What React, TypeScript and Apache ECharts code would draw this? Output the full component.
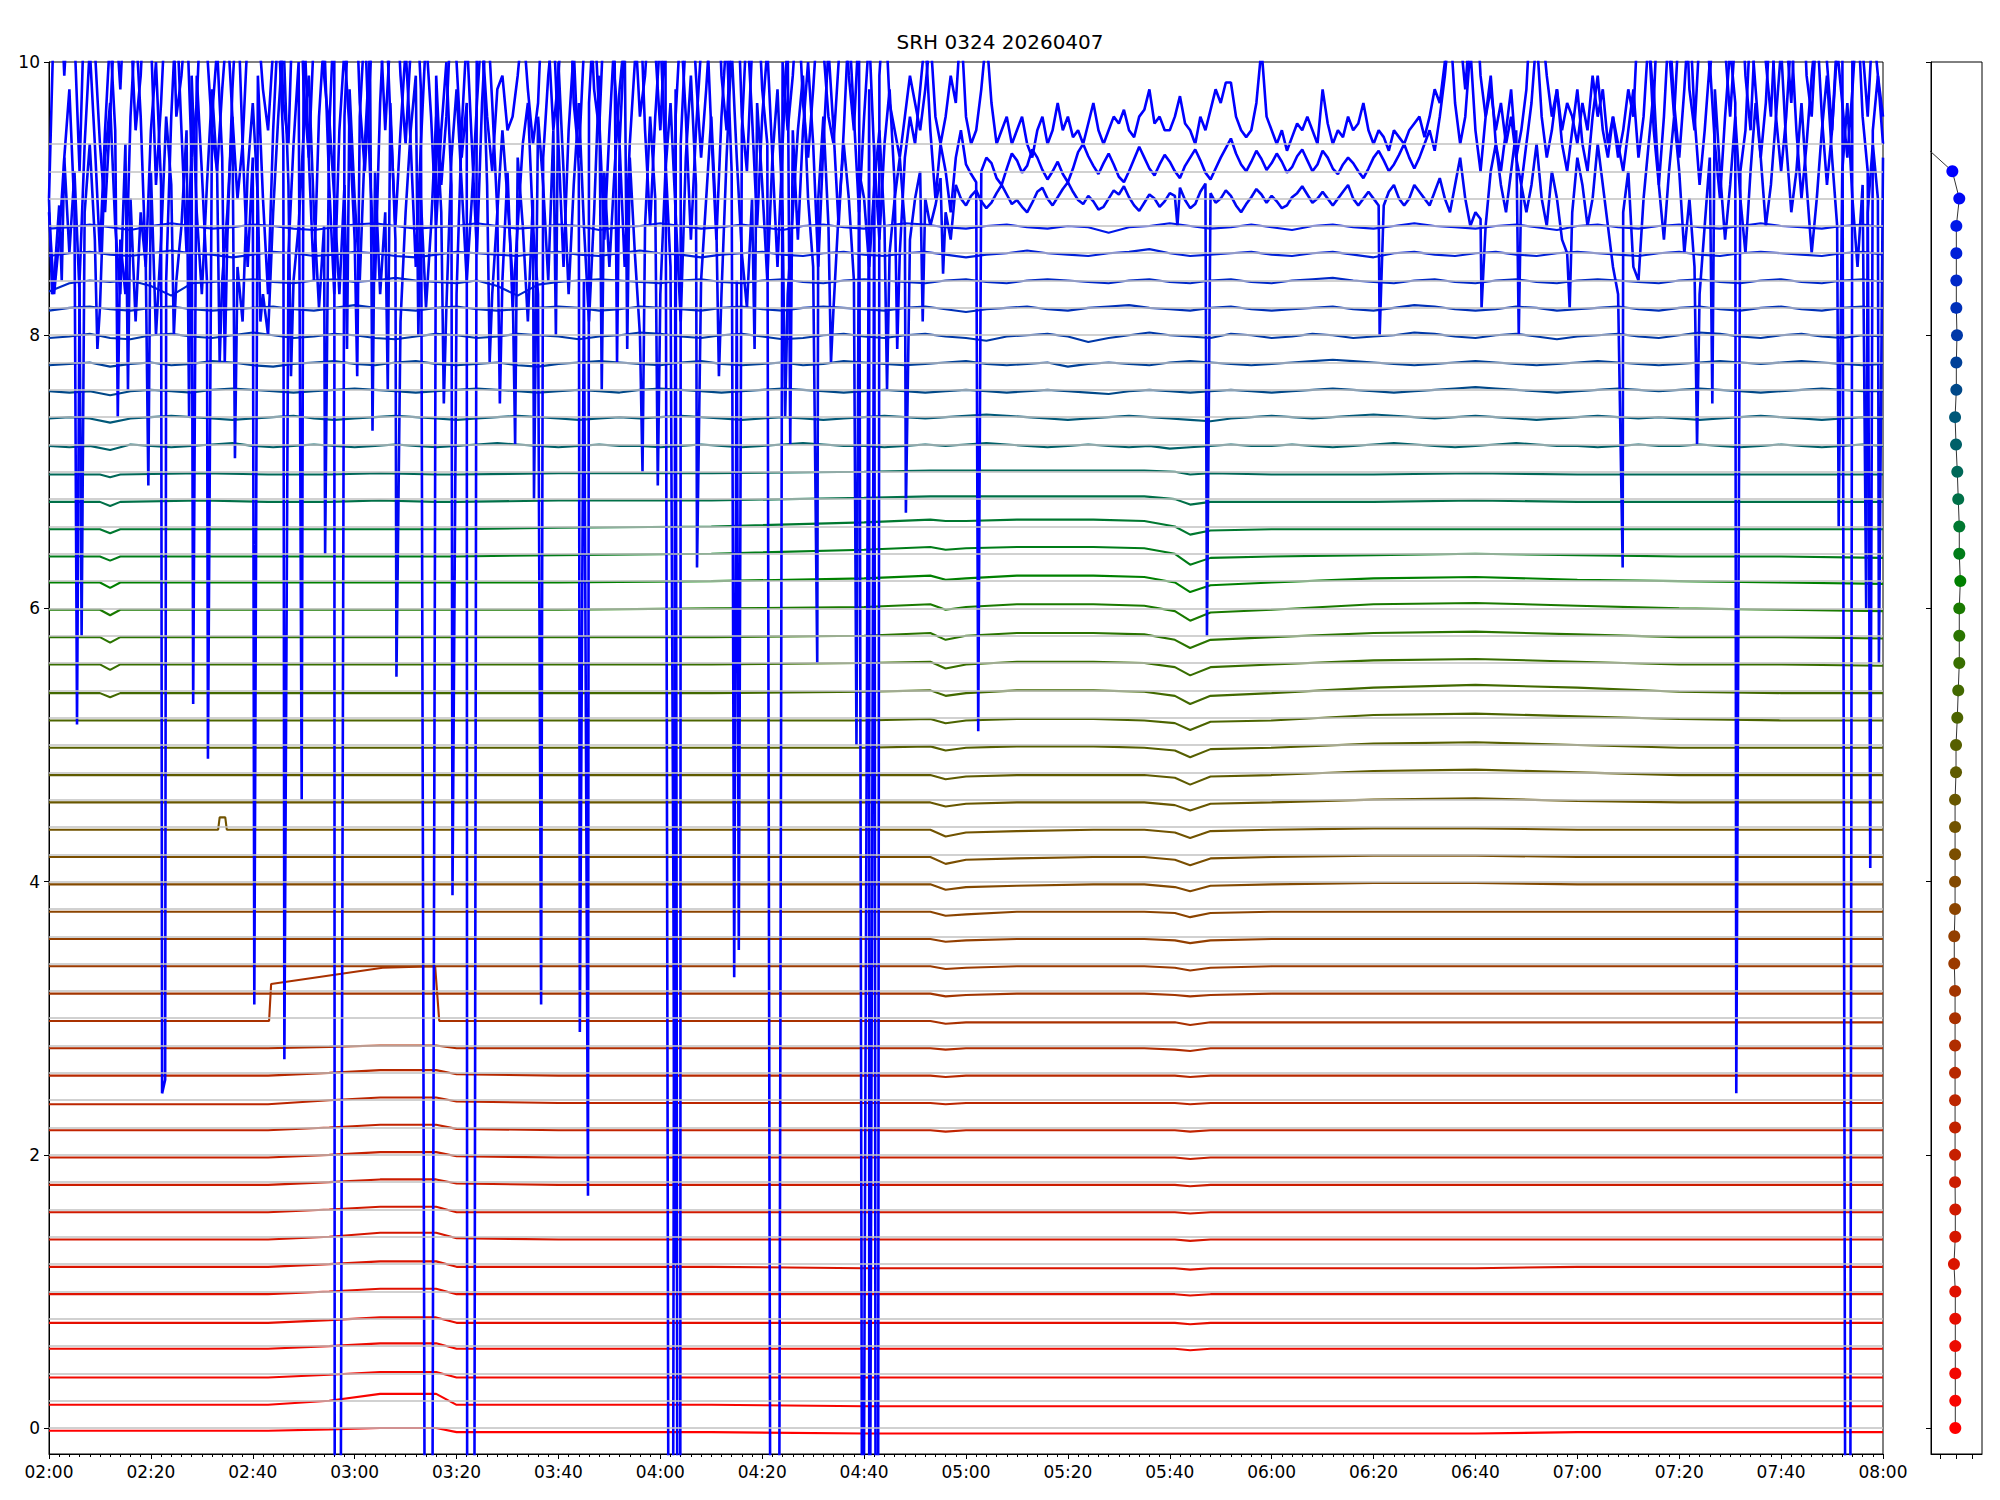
import React, { useEffect, useRef } from "react";
import * as echarts from "echarts";

const TITLE = "SRH 0324 20260407";
const FONT = "DejaVu Sans";

// x axis: minutes after 02:00
const X_MIN = 0;
const X_MAX = 360;
const X_TICK_STEP = 20;
const Y_MIN = -0.19;
const Y_MAX = 10;
const Y_TICKS = [0, 2, 4, 6, 8, 10];

// channel baselines (also the grey reference lines)
const BASELINES = [
  0, 0.2, 0.4, 0.6, 0.8, 1.0, 1.2, 1.4, 1.6, 1.8,
  2.0, 2.2, 2.4, 2.6, 2.8, 3.0, 3.2, 3.4, 3.6, 3.8,
  4.0, 4.2, 4.4, 4.6, 4.8, 5.0, 5.2, 5.4, 5.6, 5.8,
  6.0, 6.2, 6.4, 6.6, 6.8, 7.0, 7.2, 7.4, 7.6, 7.8,
  8.0, 8.2, 8.4, 8.6, 8.8, 9.0, 9.2, 9.4,
];

const COLORS = [
  "#ff0000", "#f80400", "#f20800", "#ec0b00", "#e60e00", "#e01100", "#da1400", "#d51700",
  "#d01a00", "#cb1d00", "#c62000", "#c12300", "#bc2600", "#b72900", "#b02d00", "#a93100",
  "#a23500", "#9b3a00", "#933f00", "#8b4400", "#834900", "#7a4e00", "#715300", "#685700",
  "#5f5b00", "#565f00", "#4c6400", "#426900", "#386e00", "#2a7400", "#1a7a00", "#008000",
  "#007c18", "#007830", "#007048", "#006858", "#006068", "#005878", "#004888", "#004098",
  "#0038a8", "#0030b8", "#0028c8", "#0020d8", "#0018e8", "#0008f4", "#0000ff", "#0000ff",
];

// right panel: horizontal position of each channel dot
const DOT_X = [
  -0.075, -0.075, -0.075, -0.075, -0.075, -0.075, -0.16, -0.075, -0.075, -0.09,
  -0.09, -0.09, -0.09, -0.09, -0.09, -0.09, -0.09, -0.14, -0.14, -0.09,
  -0.09, -0.09, -0.09, -0.09, -0.03, -0.03, 0.05, 0.11, 0.175, 0.175,
  0.175, 0.24, 0.175, 0.175, 0.11, 0.05, -0.03, -0.09, -0.01, -0.01,
  0.03, -0.01, -0.01, -0.01, -0.01, 0.175, -0.26, -2.15,
];
const PANEL_X_TICKS = [-1, 0, 1];

// ---- smooth channels 0..35: deviations (hundredths) from baseline at these minutes
const SMOOTH_T = [0, 10, 12, 14, 30, 43, 55, 65, 76, 80, 100, 130, 160, 173, 176, 180, 190, 205, 215, 221, 224, 228, 240, 260, 280, 300, 320, 340, 360];
const SMOOTH_DEV = [
  [-2, -2, -2, -2, -2, -2, -1, 0, 0, -3, -3, -3, -4, -4, -4, -4, -4, -4, -4, -4, -4, -4, -4, -4, -4, -3, -3, -3, -3],
  [-3, -3, -3, -3, -3, -3, 0, 5, 5, -3, -3, -3, -4, -4, -4, -4, -4, -4, -4, -4, -4, -4, -4, -4, -4, -4, -4, -4, -4],
  [-3, -3, -3, -3, -3, -3, -1, 1, 1, -3, -3, -3, -3, -3, -3, -3, -3, -3, -3, -3, -3, -3, -3, -3, -3, -3, -3, -3, -3],
  [-2, -2, -2, -2, -2, -2, 0, 2, 2, -2, -2, -2, -2, -2, -2, -2, -2, -2, -2, -2, -3, -2, -2, -2, -2, -2, -2, -2, -2],
  [-3, -3, -3, -3, -3, -3, -1, 1, 1, -3, -3, -3, -3, -3, -3, -3, -3, -3, -3, -3, -4, -3, -3, -3, -3, -3, -3, -3, -3],
  [-2, -2, -2, -2, -2, -2, 0, 2, 2, -2, -2, -2, -2, -2, -2, -2, -2, -2, -2, -2, -3, -2, -2, -2, -2, -2, -2, -2, -2],
  [-2, -2, -2, -2, -2, -2, 0, 2, 2, -2, -2, -2, -3, -3, -3, -3, -3, -3, -3, -3, -4, -3, -3, -3, -3, -2, -2, -2, -2],
  [-2, -2, -2, -2, -2, -2, 0, 3, 3, -1, -2, -2, -2, -2, -2, -2, -2, -2, -2, -2, -3, -2, -2, -2, -2, -2, -2, -2, -2],
  [-2, -2, -2, -2, -2, -2, 0, 2, 2, -2, -2, -2, -2, -2, -2, -2, -2, -2, -2, -2, -3, -2, -2, -2, -2, -2, -2, -2, -2],
  [-2, -2, -2, -2, -2, -2, 0, 2, 2, -1, -2, -2, -2, -2, -2, -2, -2, -2, -2, -2, -3, -2, -2, -2, -2, -2, -2, -2, -2],
  [-2, -2, -2, -2, -2, -2, 0, 2, 2, -1, -2, -2, -2, -2, -2, -2, -2, -2, -2, -2, -3, -2, -2, -2, -2, -2, -2, -2, -2],
  [-2, -2, -2, -2, -2, -2, 0, 2, 2, -1, -2, -2, -2, -2, -3, -2, -2, -2, -2, -2, -3, -2, -2, -2, -2, -2, -2, -2, -2],
  [-3, -3, -3, -3, -3, -3, 0, 2, 2, -1, -2, -2, -2, -2, -3, -2, -2, -2, -2, -2, -3, -2, -2, -2, -2, -2, -2, -2, -2],
  [-2, -2, -2, -2, -2, -2, 0, 2, 2, -1, -2, -2, -2, -2, -3, -2, -2, -2, -2, -2, -3, -2, -2, -2, -2, -2, -2, -2, -2],
  [-2, -2, -2, -2, -2, -2, -1, 0, 0, -2, -2, -2, -2, -2, -3, -2, -2, -2, -2, -3, -4, -2, -2, -2, -2, -2, -2, -2, -2],
  null,
  [-2, -2, -2, -2, -2, -2, -2, -2, -2, -2, -2, -2, -2, -2, -4, -3, -2, -2, -2, -3, -4, -3, -2, -2, -2, -2, -2, -2, -2],
  [-2, -2, -2, -2, -2, -2, -2, -2, -2, -2, -2, -2, -2, -2, -4, -3, -2, -2, -2, -3, -5, -3, -2, -2, -2, -2, -2, -2, -2],
  [-2, -2, -2, -2, -2, -2, -2, -2, -2, -2, -2, -2, -2, -2, -4, -3, -2, -2, -2, -3, -5, -3, -2, -2, -2, -2, -2, -2, -2],
  [-2, -2, -2, -2, -2, -2, -2, -2, -2, -2, -2, -2, -2, -2, -5, -4, -2, -2, -2, -3, -6, -3, -2, -2, -2, -2, -2, -2, -2],
  [-2, -2, -2, -2, -2, -2, -2, -2, -2, -2, -2, -2, -2, -2, -6, -4, -3, -2, -2, -4, -7, -3, -2, -1, -1, -2, -2, -2, -2],
  [-2, -2, -2, -2, -2, -2, -2, -2, -2, -2, -2, -2, -2, -2, -7, -4, -3, -2, -2, -4, -8, -3, -2, -1, -1, -2, -2, -2, -2],
  [-2, -2, -2, -2, -2, -2, -2, -2, -2, -2, -2, -2, -2, -2, -7, -4, -3, -2, -2, -4, -8, -3, -2, -1, -1, -2, -2, -2, -2],
  [-2, -2, -2, -2, -2, -2, -2, -2, -2, -2, -2, -2, -2, -2, -5, -3, -2, -2, -2, -4, -8, -3, -2, 0, 1, -1, -2, -2, -2],
  [-2, -2, -2, -2, -2, -2, -2, -2, -2, -2, -2, -2, -2, -2, -5, -3, -2, -2, -2, -4, -9, -3, -2, 1, 2, 0, -2, -2, -2],
  [-2, -2, -2, -2, -2, -2, -2, -2, -2, -2, -2, -2, -2, -1, -4, -2, -1, -1, -2, -4, -9, -3, -2, 1, 2, 0, -2, -2, -2],
  [-2, -2, -2, -2, -2, -2, -2, -2, -2, -2, -2, -2, -2, -1, -4, -2, -1, -1, -2, -4, -9, -3, -2, 2, 3, 1, -1, -2, -2],
  [-2, -2, -5, -2, -2, -2, -2, -2, -2, -2, -2, -2, -1, 0, -4, -2, 0, 0, -1, -4, -10, -4, -2, 2, 4, 2, -1, -2, -2],
  [-1, -1, -5, -1, -1, -1, -1, -1, -1, -1, -1, -1, 0, 1, -4, -1, 1, 1, 0, -3, -9, -3, -1, 2, 3, 1, -1, -1, -2],
  [-1, -1, -5, -1, -1, -1, -1, -1, -1, -1, -1, -1, 0, 2, -3, 0, 2, 2, 1, -3, -9, -3, -1, 2, 3, 1, -1, -1, -2],
  [-1, -1, -5, -1, -1, -1, -1, -1, -1, -1, -1, 0, 1, 3, -1, 1, 3, 3, 2, -2, -9, -3, -1, 3, 4, 2, 0, -1, -2],
  [-1, -1, -5, -1, -1, -1, -1, -1, -1, -1, -1, 0, 2, 4, 1, 2, 4, 4, 3, -1, -8, -3, -1, 2, 3, 1, 0, -1, -2],
  [-2, -2, -5, -2, -2, -2, -2, -2, -2, -2, -1, 0, 3, 5, 3, 4, 5, 5, 4, 0, -8, -3, -2, -1, 0, -1, -2, -2, -3],
  [-2, -2, -5, -2, -2, -2, -2, -2, -2, -2, -1, 0, 3, 5, 4, 4, 5, 5, 4, 0, -6, -3, -2, -2, -2, -2, -2, -2, -2],
  [-2, -2, -5, -2, -1, -2, -2, -1, -2, -2, -1, -1, 1, 2, 2, 2, 2, 2, 2, 0, -4, -2, -2, -2, -1, -2, -2, -2, -2],
  [-2, -2, -4, -2, -1, -2, -2, -1, -2, -2, -1, -1, 0, 1, 1, 1, 1, 1, 1, 0, -2, -1, -2, -2, -1, -2, -2, -2, -2],
];

// channel 15 (3.0) jumps up and ramps, then falls back
const CH15_POINTS = [
  [0, 2.98], [43.2, 2.98], [43.6, 3.25], [65.5, 3.37], [75.8, 3.38], [76.6, 2.98],
  [173, 2.98], [176, 2.96], [180, 2.97], [221, 2.97], [224, 2.95], [228, 2.97], [360, 2.97],
];
// channel 22 (4.4) little step near 02:34
const CH22_BUMP = [[33.2, 4.38], [33.5, 4.47], [34.6, 4.47], [34.9, 4.38]];

// ---- wiggly channels 36..44: deviations (hundredths) every 4 minutes
const WIGGLY_STEP = 4;
const WIGGLY_DEV = [
  [-1, -2, -1, -4, 0, -1, -2, -1, 0, 1, -1, -2, -1, 0, -1, -2, -1, 0, -1, -2, -1, 0, 1, 0, -1, -2, -1, 0, -1, -1, -2, -1, 0, -1, -2, -1, 0, 1, 0, -1, -1, -2, -1, 0, -1, 0, 1, 0, -1, -2, -1, 0, -1, -2, -1, -3, -2, -1, 0, -1, -1, 0, -1, -2, -1, 0, 1, 0, -1, -2, -1, 0, 1, 0, -1, -1, -2, -1, 0, -1, -1, 0, -1, -2, -1, 0, -1, -2, -1, 0, -1],
  [-1, 0, -1, -4, -1, 0, 1, 0, -1, -2, -1, 0, 1, -1, -2, -1, 0, 1, 0, -1, -2, -1, 0, 1, 0, -1, -2, -1, 0, -1, 0, 1, 0, -1, -2, -1, 0, -1, -2, -1, 0, 1, 0, -1, 0, 1, 2, 1, 0, -1, -2, -1, 0, 1, 0, -1, -2, -3, -1, 0, 1, 0, -1, 0, 1, 2, 1, 0, -1, 0, 1, 0, -1, -2, -1, 0, 1, 0, -1, 0, -1, -2, -1, 0, 1, 0, -1, -2, -1, 0, -1],
  [-1, -2, -1, -4, -1, 0, -1, -2, 0, 1, 0, -1, -2, -1, 0, 1, 0, -1, -2, -1, 0, 1, 0, -1, -2, -1, 0, -1, -2, 0, 1, 0, -1, -2, -1, 0, 1, 0, -1, -2, -1, 0, -1, -2, -1, 0, -1, -2, -1, 0, -1, -2, -3, -1, 0, -1, -2, -1, 0, -1, -2, -1, 0, 1, 0, -1, -2, -1, 0, 1, 2, 1, 0, -1, -2, -1, 0, 1, 0, -1, 0, 1, 0, -1, -2, -1, 0, 1, 0, -1, -1],
  [-2, -1, 0, -3, -1, 0, -2, -1, 1, 0, -2, -3, -1, 0, 1, -1, -2, 0, 1, -1, -2, -1, 0, -2, -3, -1, 0, 1, 0, -1, -2, 0, 1, -1, -2, -1, 0, -2, -1, 1, 0, -1, -2, -1, 0, 1, -1, -2, -1, 0, -3, -1, 0, -1, -2, 0, 1, 0, -1, -2, -1, 0, 1, 2, 1, 0, -1, -2, -1, 0, 1, 0, -1, -2, -1, 0, 1, 0, -1, -2, -1, 0, 1, 0, -1, 0, 1, 0, -1, -2, -1],
  [-2, -1, 1, -2, -3, 0, 1, -1, -2, 0, 2, 0, -2, -1, 1, 0, -2, -3, -1, 1, 0, -2, -1, 1, 0, -1, -3, -1, 0, 2, 1, -1, -2, 0, 1, -1, -3, -2, 0, 1, -1, -2, 0, 1, -1, -2, -4, -1, 0, 1, -1, -5, -2, 0, 2, 0, -1, -2, 1, 0, -2, -1, 1, 0, -2, -1, 0, 2, 1, -1, -2, 0, 1, -1, -3, -1, 0, 1, -1, -2, 0, 2, 1, -1, -2, 0, 1, -1, -2, 0, -1],
  [-2, 0, 1, -1, -2, 0, 1, -1, -2, -1, 0, 1, -1, -2, 0, 2, 0, -1, -2, 0, 1, -1, -2, -1, 0, 1, 0, -2, -1, 1, 0, -1, -2, 0, 1, -1, -2, 0, 1, 0, -1, -2, 0, 1, -1, -3, -1, 0, 1, -1, -2, 0, 1, 2, 0, -1, -2, 0, 1, -1, -2, -1, 0, 1, -1, -2, 0, 2, 1, -1, -2, -1, 1, 0, -2, -1, 0, 1, -1, -2, 0, 1, -1, -2, 0, 1, -1, -2, 0, 1, -1],
  [-8, -2, 0, -1, 0, -4, -11, -2, -1, 0, 1, -1, -2, 0, 1, -1, 0, 2, 0, -1, -2, 0, -4, -11, -3, -1, 0, 1, 0, -1, -2, 0, 1, -1, -2, 0, 1, -1, -2, 0, 1, 0, -1, -2, 0, 1, -1, -2, 0, 1, 0, -1, -2, 0, 1, -1, -2, 0, 1, -1, -2, 0, 1, 2, 0, -1, -2, 0, 1, -1, -2, 0, 1, -1, -2, 0, 1, 0, -1, -2, 0, 1, -1, -2, 0, 1, -1, -2, 0, 1, -1],
  [-2, 0, 1, -1, -2, 0, 2, 0, -1, -3, -1, 1, 0, -2, -1, 1, 0, -2, -3, -1, 1, 0, -1, -2, 0, 1, -1, -2, 0, 2, 0, -1, -3, -1, 0, 1, -1, -2, 0, 1, -1, -2, 0, 1, -1, -3, -1, 0, 2, 0, -1, -2, 0, 1, 3, 0, -2, -1, 0, 1, -1, -2, 0, 1, -1, -3, 0, 1, -1, -2, 0, 1, -1, -2, 0, 1, 0, -1, -2, 0, 1, -1, -2, 0, 1, 0, -1, -2, 0, 1, -1],
  [-2, -1, 1, -1, -3, 0, 2, 0, -2, -1, 1, 0, -2, -3, -1, 1, 2, 0, -2, -1, 0, 2, 0, -2, -1, 1, 0, -3, -1, 0, 2, 0, -2, -1, 1, -1, -3, 0, 1, -1, -2, 0, 2, 1, -1, -2, 0, 1, -1, -2, 0, -1, -5, -1, 0, 2, 0, -2, -1, 1, -1, -3, 0, 1, -1, -2, 0, 2, 0, -1, -2, 0, 1, -1, -3, 0, 1, -1, -2, 0, 1, -1, -2, 0, 2, 0, -1, -2, 0, 1, -1],
];

// ---- noisy channels 45..47: one reading per minute (02:00 .. 08:00)
const NOISY_45 = [
  9.0, 8.4, 8.95, 9.3, 8.6, 9.2, 8.3, 8.9, 9.4, 8.7,
  8.2, 9.3, 9.7, 8.8, 8.3, 9.4, 9.0, 8.1, 8.9, 8.5,
  9.2, 8.0, 8.7, 9.6, 9.1, 8.4, 8.8, 9.5, 9.9, 8.9,
  8.3, 9.1, 9.8, 9.2, 8.4, 8.9, 9.6, 8.5, 8.1, 9.2,
  9.7, 9.0, 8.3, 8.0, 8.9, 9.6, 10.2, 9.1, 8.4, 8.8,
  9.5, 9.9, 8.9, 8.2, 8.8, 9.6, 9.0, 8.3, 9.1, 9.8,
  9.0, 8.4, 9.4, 10.1, 9.2, 8.3, 8.9, 9.7, 8.7, 8.1,
  8.9, 9.5, 9.9, 9.0, 8.2, 8.8, 9.6, 8.9, 8.2, 9.3,
  9.8, 9.1, 8.4, 9.0, 9.7, 10.3, 9.1, 8.3, 8.9, 9.5,
  9.0, 8.4, 9.3, 8.8, 8.1, 9.0, 9.6, 9.1, 8.4, 9.5,
  10.0, 9.2, 8.3, 9.1, 9.7, 8.8, 8.1, 8.9, 9.9, 9.2,
  8.5, 9.2, 9.8, 10.2, 9.3, 8.6, 8.0, 8.8, 9.6, 9.0,
  8.3, 9.2, 9.7, 8.9, 8.1, 9.3, 9.9, 9.1, 8.4, 9.0,
  9.6, 8.8, 8.3, 9.3, 10.1, 9.3, 8.6, 8.2, 9.0, 9.7,
  9.1, 8.4, 9.3, 9.8, 8.9, 8.3, 8.9, 9.5, 9.9, 9.0,
  8.5, 9.0, 9.6, 8.8, 8.2, 8.9, 9.4, 9.0, 8.4, 9.2,
  9.0, 8.5, 9.1, 9.5, 8.8, 8.6, 9.0, 9.3, 8.8, 8.7,
  9.0, 9.2, 9.0, 8.8, 8.95, 9.15, 8.9, 8.7, 9.1, 9.0,
  8.95, 9.02, 9.06, 8.98, 8.93, 8.97, 9.04, 9.1, 9.03, 8.96,
  8.99, 8.94, 8.9, 8.97, 9.05, 9.08, 9.0, 8.95, 9.01, 9.07,
  9.12, 9.05, 8.99, 8.96, 9.02, 8.98, 8.92, 8.94, 9.0, 9.06,
  9.03, 9.09, 9.01, 8.95, 8.91, 8.97, 9.03, 9.0, 8.94, 8.98,
  9.04, 9.02, 9.08, 8.99, 8.93, 8.96, 9.05, 9.11, 9.04, 8.97,
  9.0, 9.06, 9.02, 8.95, 8.9, 8.96, 9.01, 9.07, 9.03, 8.97,
  9.02, 8.98, 8.93, 8.95, 9.01, 9.04, 9.09, 9.03, 8.97, 9.0,
  9.05, 9.0, 8.95, 9.0, 9.05, 9.1, 9.0, 8.95, 9.0, 9.05,
  9.0, 8.95, 8.95, 9.05, 9.1, 9.0, 8.95, 9.0, 9.1, 9.05,
  9.0, 8.95, 9.05, 9.15, 9.0, 8.9, 9.1, 9.3, 9.0, 8.8,
  8.9, 8.85, 8.8, 9.2, 9.4, 9.1, 8.9, 9.2, 9.5, 9.1,
  8.9, 9.1, 9.4, 9.0, 8.8, 9.2, 9.0, 8.7, 8.6, 8.9,
  9.3, 9.1, 8.8, 9.0, 9.4, 9.1, 8.8, 8.5, 8.3, 8.9,
  9.2, 8.5, 8.4, 9.0, 9.4, 9.8, 9.1, 8.7, 9.2, 9.6,
  9.2, 8.6, 9.0, 8.5, 8.3, 8.8, 9.3, 9.8, 9.2, 8.7,
  9.1, 9.6, 9.0, 8.6, 9.2, 9.7, 9.3, 8.8, 9.1, 9.6,
  10.1, 9.4, 8.9, 9.2, 9.7, 9.1, 8.6, 9.0, 9.5, 9.9,
  9.3, 8.8, 9.2, 9.7, 9.0, 8.5, 9.1, 8.9, 9.4, 9.0,
  9.3,
];
const NOISY_46 = [
  8.9, 8.3, 8.7, 9.3, 9.8, 8.9, 8.4, 9.4, 10.1, 9.4,
  8.6, 9.5, 10.2, 9.5, 8.7, 8.3, 9.6, 10.3, 9.6, 8.5,
  9.5, 10.0, 9.1, 8.4, 9.6, 10.4, 9.5, 8.6, 9.3, 9.9,
  9.2, 8.4, 9.6, 10.1, 9.3, 8.7, 9.8, 10.5, 9.4, 8.5,
  9.3, 9.9, 9.0, 8.3, 9.5, 10.3, 9.4, 8.6, 9.4, 10.0,
  10.4, 9.3, 8.4, 9.6, 10.2, 9.1, 8.3, 9.5, 10.1, 9.5,
  8.7, 9.6, 10.3, 9.2, 8.4, 9.7, 10.5, 9.6, 8.8, 9.5,
  10.1, 9.4, 8.5, 9.4, 10.2, 9.6, 8.8, 9.5, 10.0, 9.1,
  8.3, 9.5, 10.2, 9.4, 8.6, 9.7, 10.4, 9.7, 8.9, 8.4,
  9.2, 8.2, 8.8, 9.4, 9.7, 8.8, 8.3, 9.3, 9.9, 10.3,
  9.4, 8.5, 9.5, 10.1, 9.2, 8.4, 9.7, 10.4, 9.6, 8.7,
  9.5, 10.2, 9.4, 8.5, 9.4, 10.0, 10.5, 9.5, 8.8, 9.6,
  10.2, 9.3, 8.5, 9.6, 10.3, 9.6, 8.7, 9.5, 10.1, 10.4,
  9.5, 8.7, 9.6, 10.2, 9.2, 8.4, 9.5, 10.3, 9.6, 8.8,
  9.6, 10.1, 9.3, 8.5, 9.4, 10.2, 9.5, 8.7, 9.5, 10.0,
  9.4, 8.5, 9.4, 10.1, 9.5, 8.8, 9.5, 10.3, 9.6, 8.9,
  9.6, 10.2, 9.3, 8.7, 9.4, 9.8, 9.1, 8.6, 9.3, 9.6,
  9.4, 9.8, 10.2, 9.5, 9.0, 9.4, 9.2, 8.9, 9.3, 9.5,
  9.25, 9.18, 9.12, 9.2, 9.3, 9.26, 9.15, 9.1, 9.22, 9.33,
  9.28, 9.19, 9.24, 9.36, 9.3, 9.21, 9.14, 9.2, 9.27, 9.18,
  9.12, 9.22, 9.34, 9.4, 9.31, 9.24, 9.18, 9.26, 9.33, 9.25,
  9.16, 9.12, 9.2, 9.29, 9.38, 9.3, 9.22, 9.17, 9.25, 9.32,
  9.27, 9.2, 9.15, 9.24, 9.3, 9.36, 9.28, 9.19, 9.14, 9.22,
  9.3, 9.37, 9.44, 9.33, 9.25, 9.2, 9.27, 9.35, 9.29, 9.21,
  9.26, 9.33, 9.27, 9.19, 9.23, 9.31, 9.36, 9.28, 9.2, 9.25,
  9.35, 9.3, 9.22, 9.18, 9.25, 9.3, 9.26, 9.2, 9.15, 9.22,
  9.3, 9.35, 9.28, 9.2, 9.25, 9.32, 9.4, 9.3, 9.22, 9.3,
  9.4, 9.5, 9.35, 9.6, 9.9, 10.3, 9.7, 9.4, 9.6, 10.1,
  9.5, 9.2, 9.6, 9.9, 9.4, 9.2, 9.5, 9.8, 9.3, 9.1,
  9.4, 9.7, 10.2, 9.6, 9.3, 9.5, 9.8, 9.4, 9.2, 9.5,
  9.8, 9.4, 9.2, 9.6, 9.9, 9.5, 9.3, 9.6, 9.4, 9.2,
  9.5, 9.8, 9.3, 9.6, 10.2, 9.5, 9.1, 9.6, 10.3, 9.7,
  9.3, 9.8, 10.4, 9.6, 9.1, 9.5, 10.0, 9.4, 9.0, 9.6,
  10.1, 9.7, 9.2, 9.5, 10.3, 9.8, 9.3, 9.7, 10.4, 9.6,
  9.2, 9.6, 10.2, 9.5, 9.0, 9.4, 9.9, 10.3, 9.6, 9.1,
  9.5, 10.1, 9.7, 9.3, 9.8, 10.4, 9.6, 9.2, 9.5, 9.9,
  9.4,
];
const NOISY_47 = [
  9.0, 10.4, 10.8, 9.9, 10.6, 10.2, 9.2, 10.5, 10.9, 10.1,
  9.4, 8.9, 9.6, 10.4, 9.8, 10.6, 10.3, 9.5, 9.9, 10.7,
  10.2, 9.1, 9.7, 10.5, 10.8, 9.6, 9.9, 10.4, 9.3, 9.7,
  10.6, 10.1, 9.5, 9.2, 9.8, 10.3, 9.6, 9.0, 9.4, 10.2,
  10.8, 10.3, 9.8, 9.5, 10.1, 10.7, 9.7, 9.4, 10.6, 10.9,
  9.8, 9.3, 10.2, 10.6, 9.9, 9.5, 10.4, 9.9, 9.6, 10.5,
  10.8, 9.7, 9.2, 9.9, 10.6, 10.3, 9.5, 10.2, 10.7, 9.9,
  9.4, 10.1, 10.6, 9.8, 9.5, 10.3, 9.9, 9.1, 9.6, 10.4,
  10.0, 9.3, 9.7, 10.5, 10.9, 10.2, 9.6, 9.2, 9.8, 9.9,
  9.5, 9.6, 9.9, 10.3, 9.8, 9.4, 9.7, 10.6, 10.2, 9.5,
  9.9, 10.5, 10.8, 9.7, 9.3, 10.1, 10.6, 9.8, 9.5, 10.4,
  10.7, 9.9, 9.4, 10.2, 10.8, 10.3, 9.6, 9.9, 10.5, 10.1,
  9.5, 10.3, 10.7, 9.8, 9.4, 10.2, 10.6, 9.9, 9.3, 9.8,
  10.4, 10.9, 9.9, 9.5, 10.3, 10.7, 9.6, 9.2, 10.1, 10.6,
  9.8, 9.4, 10.2, 10.8, 10.0, 9.5, 9.9, 10.5, 9.7, 9.3,
  9.8, 10.4, 10.1, 9.6, 9.4, 10.0, 10.6, 9.9, 9.5, 10.3,
  10.7, 9.8, 9.4, 9.9, 10.5, 9.7, 9.5, 9.3, 9.6, 9.9,
  9.7, 9.5, 9.8, 10.2, 9.6, 9.4, 9.6, 9.9, 9.7, 10.3,
  9.6, 9.4, 9.5, 9.8, 10.2, 9.7, 9.4, 9.5, 9.6, 9.4,
  9.5, 9.6, 9.4, 9.3, 9.5, 9.6, 9.4, 9.5, 9.7, 9.5,
  9.6, 9.45, 9.5, 9.4, 9.55, 9.7, 9.5, 9.4, 9.5, 9.6,
  9.55, 9.65, 9.5, 9.45, 9.6, 9.65, 9.8, 9.55, 9.6, 9.5,
  9.5, 9.6, 9.75, 9.55, 9.5, 9.4, 9.6, 9.5, 9.65, 9.8,
  9.7, 9.85, 9.85, 9.6, 9.5, 9.45, 9.5, 9.7, 10.1, 9.6,
  9.5, 9.4, 9.5, 9.35, 9.45, 9.55, 9.5, 9.6, 9.5, 9.4,
  9.8, 9.55, 9.4, 9.5, 9.45, 9.6, 9.5, 9.55, 9.7, 9.5,
  9.4, 9.5, 9.45, 9.35, 9.5, 9.45, 9.4, 9.5, 9.55, 9.6,
  9.45, 9.6, 9.8, 9.7, 10.0, 10.4, 10.6, 10.2, 9.8, 10.3,
  10.6, 9.9, 9.6, 9.8, 9.5, 9.7, 9.4, 9.6, 9.3, 9.5,
  9.8, 10.5, 10.8, 10.3, 9.9, 9.6, 9.8, 9.5, 9.7, 9.6,
  9.4, 9.7, 9.5, 9.9, 9.6, 9.8, 9.4, 9.6, 9.3, 9.5,
  9.8, 9.6, 10.4, 10.8, 10.2, 9.7, 10.6, 10.9, 10.1, 9.6,
  10.3, 10.7, 9.8, 9.5, 10.2, 10.6, 9.9, 10.4, 10.8, 10.1,
  9.6, 10.2, 10.7, 9.9, 9.5, 10.3, 10.8, 10.0, 9.6, 10.4,
  10.9, 10.2, 9.7, 10.5, 10.8, 9.9, 9.6, 10.3, 10.7, 10.0,
  9.5, 10.2, 10.6, 9.8, 10.4, 10.9, 10.1, 9.6, 10.3, 9.9,
  9.6,
];

// downward spikes [minute, value]
const SPIKES_45 = [
  [0.6, 8.3], [2.5, 8.4], [6.4, 5.8], [9.5, 7.9], [15.5, 7.6], [19.5, 6.9], [24.5, 8.0], [27.5, 7.4],
  [33.5, 7.8], [36.5, 7.1], [41.5, 8.1], [47.5, 7.7], [54.2, 6.4], [58.5, 7.9], [63.5, 7.3], [66.5, 7.6],
  [68.2, 5.5], [72.5, 8.0], [77.5, 7.5], [86.5, 7.8], [91.5, 7.2], [95.2, 6.8], [99.5, 8.0], [108.5, 7.6],
  [113.5, 7.9], [116.5, 7.0], [119.5, 6.9], [127.2, 6.3], [131.5, 7.7], [138.5, 7.9], [144.5, 7.4], [150.8, 5.6],
  [153.5, 7.8], [158.5, 5.0], [164.5, 7.6], [168.2, 6.7], [171.5, 8.1], [175.5, 8.45], [221.5, 8.8], [227.3, 5.8],
  [261.2, 8.0], [281.2, 8.2], [288.5, 8.0], [298.5, 8.2], [308.9, 6.3], [323.5, 7.2], [326.5, 7.5], [351.3, 6.6],
  [356.7, 6.0], [359.2, 5.6],
];
const SPIKES_46 = [
  [5.5, 5.15], [13.5, 7.4], [22.2, 2.45], [22.8, 2.55], [28.3, 5.3], [31.2, 4.9], [34.5, 7.8], [40.3, 3.1],
  [46.2, 2.7], [49.6, 4.6], [60.5, 7.7], [79.2, 3.9], [88.5, 7.5], [96.6, 3.1], [104.2, 2.9], [105.8, 1.7],
  [111.5, 7.8], [122.9, 1.2], [134.5, 3.3], [135.4, 3.5], [145.5, 7.2], [166.5, 7.9], [182.4, 5.1], [331.2, 2.45],
  [357.5, 4.1],
];
// drop-outs of channel 47 far below the axis [start, end] minutes
const DROPOUTS_47 = [
  [56.1, 57.1], [73.9, 75.1], [82.1, 83.4], [121.7, 122.4], [123.4, 123.9],
  [141.7, 143.2], [159.7, 161.0], [162.3, 162.7], [352.7, 353.5],
];
const DROPOUT_LEVEL = -3;

function fmtTime(v: number) {
  const h = 2 + Math.floor(v / 60);
  const m = Math.round(v % 60);
  return String(h).padStart(2, "0") + ":" + String(m).padStart(2, "0");
}

function byTime(a: number[], b: number[]) {
  return a[0] - b[0];
}

function buildSmooth(i: number) {
  if (i === 15) return CH15_POINTS.slice();
  const dev = SMOOTH_DEV[i] as number[];
  const pts = SMOOTH_T.map((t, k) => [t, BASELINES[i] + dev[k] / 100]);
  if (i === 22) CH22_BUMP.forEach((p) => pts.push(p));
  return pts.sort(byTime);
}

function buildWiggly(i: number) {
  const dev = WIGGLY_DEV[i - 36];
  return dev.map((d, k) => [k * WIGGLY_STEP, BASELINES[i] + d / 100]);
}

function buildNoisy(values: number[], spikes: number[][], dropouts: number[][]) {
  let pts = values.map((v, k) => [k, v]);
  pts = pts.filter(([t]) => !dropouts.some(([a, b]) => t > a && t < b));
  dropouts.forEach(([a, b]) => {
    pts.push([a, DROPOUT_LEVEL]);
    pts.push([b, DROPOUT_LEVEL]);
  });
  spikes.forEach((p) => pts.push(p));
  return pts.sort(byTime);
}

function channelData(i: number) {
  if (i <= 35) return buildSmooth(i);
  if (i <= 44) return buildWiggly(i);
  if (i === 45) return buildNoisy(NOISY_45, SPIKES_45, []);
  if (i === 46) return buildNoisy(NOISY_46, SPIKES_46, []);
  return buildNoisy(NOISY_47, [], DROPOUTS_47);
}

function buildOption() {
  const axisLineStyle = { color: "#000", width: 1 };
  const labelStyle = { fontFamily: FONT, fontSize: 17, color: "#000" };

  const series: any[] = [];
  // grey reference lines at each baseline
  series.push({
    type: "line",
    xAxisIndex: 0,
    yAxisIndex: 0,
    data: [[0, -5], [1, -5]],
    symbol: "none",
    lineStyle: { opacity: 0 },
    silent: true,
    z: 1,
    markLine: {
      silent: true,
      symbol: ["none", "none"],
      label: { show: false },
      emphasis: { disabled: true },
      lineStyle: { color: "#c2c2c2", width: 1.5, type: "solid" },
      data: BASELINES.map((b) => ({ yAxis: b })),
    },
  });

  BASELINES.forEach((b, i) => {
    series.push({
      name: "ch" + i,
      type: "line",
      xAxisIndex: 0,
      yAxisIndex: 0,
      data: channelData(i),
      symbol: "none",
      showSymbol: false,
      silent: true,
      clip: true,
      z: 2,
      emphasis: { disabled: true },
      lineStyle: { color: COLORS[i], width: i >= 45 ? 2.6 : 2.1, opacity: 1 },
      itemStyle: { color: COLORS[i] },
    });
  });

  // right panel
  series.push({
    type: "line",
    xAxisIndex: 1,
    yAxisIndex: 1,
    data: DOT_X.map((x, i) => [x, BASELINES[i]]),
    symbol: "none",
    silent: true,
    clip: true,
    lineStyle: { color: "#333", width: 1 },
    z: 2,
  });
  series.push({
    type: "scatter",
    xAxisIndex: 1,
    yAxisIndex: 1,
    symbolSize: 12,
    silent: true,
    clip: true,
    z: 3,
    itemStyle: { opacity: 1 },
    data: DOT_X.map((x, i) => ({ value: [x, BASELINES[i]], itemStyle: { color: COLORS[i], opacity: 1 } })),
  });

  return {
    animation: false,
    backgroundColor: "#fff",
    title: {
      text: TITLE,
      left: "center",
      top: 27,
      textStyle: { fontFamily: FONT, fontSize: 20, fontWeight: "normal", color: "#000" },
    },
    grid: [
      { left: 49, top: 62, width: 1834, height: 1392, show: true, borderColor: "#000", borderWidth: 1, backgroundColor: "transparent" },
      { left: 1931, top: 62, width: 51, height: 1392, show: true, borderColor: "#000", borderWidth: 1, backgroundColor: "transparent" },
    ],
    xAxis: [
      {
        gridIndex: 0,
        type: "value",
        min: X_MIN,
        max: X_MAX,
        interval: X_TICK_STEP,
        axisLine: { show: true, onZero: false, lineStyle: axisLineStyle },
        axisTick: { show: true, length: 5, lineStyle: axisLineStyle },
        minorTick: { show: true, splitNumber: 10, length: 3, lineStyle: axisLineStyle },
        axisLabel: { ...labelStyle, margin: 9, formatter: (v: number) => fmtTime(v) },
        splitLine: { show: false },
        minorSplitLine: { show: false },
      },
      {
        gridIndex: 1,
        type: "value",
        min: -1.6,
        max: 1.6,
        axisLine: { show: true, onZero: false, lineStyle: axisLineStyle },
        axisTick: { show: true, length: 5, lineStyle: axisLineStyle, customValues: PANEL_X_TICKS },
        axisLabel: { show: false },
        splitLine: { show: false },
      },
    ],
    yAxis: [
      {
        gridIndex: 0,
        type: "value",
        min: Y_MIN,
        max: Y_MAX,
        axisLine: { show: true, onZero: false, lineStyle: axisLineStyle },
        axisTick: { show: true, length: 5, lineStyle: axisLineStyle, customValues: Y_TICKS },
        axisLabel: { ...labelStyle, margin: 9, customValues: Y_TICKS },
        splitLine: { show: false },
      },
      {
        gridIndex: 1,
        type: "value",
        min: Y_MIN,
        max: Y_MAX,
        axisLine: { show: true, onZero: false, lineStyle: axisLineStyle },
        axisTick: { show: true, length: 5, lineStyle: axisLineStyle, customValues: Y_TICKS },
        axisLabel: { show: false },
        splitLine: { show: false },
      },
    ],
    series,
  };
}

export default function App() {
  const ref = useRef<HTMLDivElement>(null);
  useEffect(() => {
    document.body.style.margin = "0";
    if (!ref.current) return;
    const chart = echarts.init(ref.current, null, { renderer: "svg" });
    chart.setOption(buildOption() as any);
    return () => chart.dispose();
  }, []);
  return <div ref={ref} style={{ width: 2000, height: 1500, background: "#fff" }} />;
}
